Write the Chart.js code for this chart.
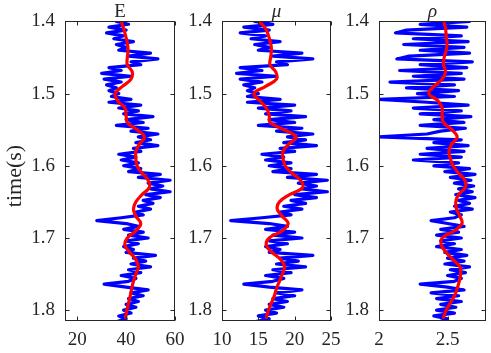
<!DOCTYPE html>
<html lang="en">
<head>
<meta charset="UTF-8">
<title>E mu rho</title>
<style>
  html, body { margin: 0; padding: 0; background: #fff; }
  #wrap { position: relative; width: 491px; height: 353px; }
  #wrap canvas { position: absolute; left: 0; top: 0; }
</style>
</head>
<body>
<div id="wrap">
  <canvas id="cE" width="491" height="353"></canvas>
  <canvas id="cMu" width="491" height="353"></canvas>
  <canvas id="cRho" width="491" height="353"></canvas>
</div>

<script src="https://cdn.jsdelivr.net/npm/chart.js"></script>
<script>
// sample grids (time in s)
const logStart = 1.4, logStep = 0.004;
const smoothStart = 1.4, smoothStep = 0.01;

// blue: well logs
const eLog = [36,41,33,40,32,39,35,43,36,40,
  37,50,41,53,42,46,33,38,30,42,
  31,38,32,36,33,37,34,42,33,46,
  37,45,39,51,40,47,36,49,42,53,
  45,50,44,53,43,46,37,44,38,45,
  39,46,41,54,45,58,49,55,50,58,
  48,54,47,51,45,50,44,47,38,28,
  40,45,39,47,41,49,40,45,39,43,
  40,52,43,48,42,50,41,46,38,44,
  41,31,40,49,42,47,41,45,40,44,
  39,42,37,40,36];
const muLog = [14.5,17,13,16.5,12.5,16,14,18,14.5,16.5,
  15,21,17,22.5,17.5,19,12.5,15.5,12,17.5,
  12.5,15.5,13,14.5,13.5,15,13.5,18,13.5,20,
  15,19.5,16,21.5,16.5,20,15,21,17.5,22.5,
  19,21.5,18.5,23,18,20,15.5,18.5,16,19.5,
  16.5,19.5,17,23,19,24.5,20.5,23,21,24.5,
  20,23,19.5,21.5,18.5,21,18,19.5,15.5,11.2,
  16.5,19,16,20,17,21,16.5,19,16,18,
  16.5,22.5,18,20.5,17.5,21.5,17,19.5,16,18.5,
  17,13,16.5,21,17.5,20,17,19,16.5,18.5,
  16,17.5,15,16.5,14.5];
const rhoLog = [2.66,2.3,2.64,2.2,2.12,2.6,2.25,2.65,2.18,2.62,
  2.3,2.66,2.22,2.13,2.68,2.3,2.64,2.15,2.6,2.25,
  2.62,2.08,2.55,2.2,2.58,2.28,2.55,2.0,2.35,2.65,
  2.25,2.6,2.3,2.67,2.4,2.62,2.3,2.63,2.45,2.35,
  2.0,2.6,2.4,2.65,2.35,2.62,2.3,2.6,2.25,2.58,
  2.4,2.66,2.48,2.7,2.52,2.67,2.55,2.69,2.58,2.68,
  2.56,2.7,2.58,2.66,2.55,2.68,2.52,2.6,2.55,2.38,
  2.5,2.62,2.45,2.58,2.42,2.6,2.45,2.55,2.42,2.6,
  2.48,2.64,2.5,2.62,2.48,2.66,2.52,2.63,2.5,2.6,
  2.55,2.3,2.5,2.62,2.38,2.58,2.42,2.6,2.45,2.56,
  2.42,2.55,2.4,2.5,2.44];

// red: smooth trends
const eSmooth = [38,39,39.8,40.5,40.8,40.5,40.5,42.5,42,38.5,
  35.5,36.5,39.5,40,40.5,44.5,47.5,45.5,44,44,
  44.5,46.5,49,49.5,46.5,44,43,44,46,44,
  40.5,39.5,41.5,44,45,44,43,42.3,41.7,41,
  40.3,39.8];
const muSmooth = [15.1,16,16.4,16.7,16.8,16.7,16.6,17.4,17.5,16,
  14.4,15.2,16.1,16.5,16.6,18.5,20.2,19.2,18.4,18.4,
  18.7,19.6,20.8,21.1,19.3,17.9,17.6,18.3,19.1,18.3,
  16.5,16.1,16.9,18.1,18.6,18.3,17.9,17.5,17.2,16.8,
  16.4,16.1];
const rhoSmooth = [2.473,2.485,2.49,2.496,2.49,2.475,2.47,2.485,2.46,2.40,
  2.363,2.43,2.46,2.46,2.47,2.53,2.57,2.53,2.51,2.52,
  2.54,2.58,2.625,2.63,2.58,2.56,2.565,2.59,2.605,2.55,
  2.46,2.455,2.49,2.54,2.59,2.595,2.585,2.57,2.55,2.52,
  2.49,2.47];

const timeTicks = [1.4, 1.5, 1.6, 1.7, 1.8];
const eTicks = [20, 40, 60];
const muTicks = [10, 15, 20, 25];
const rhoTicks = [2, 2.5];

const txt = '#262626';
const serif = '"Liberation Serif", "Times New Roman", serif';

function toPoints(vals, t0, dt) {
  return vals.map((v, i) => ({ x: v, y: +(t0 + i * dt).toFixed(4) }));
}

// box + inward ticks + panel title
const framePlugin = {
  id: 'frame',
  afterDraw(chart, args, opts) {
    const c = chart.ctx, a = chart.chartArea;
    const xs = chart.scales.x, ys = chart.scales.y;
    const L = Math.round(a.left) + 0.5, R = Math.round(a.right) - 0.5;
    const T = Math.round(a.top) + 0.5, B = Math.round(a.bottom) - 0.5;
    c.save();
    c.strokeStyle = txt;
    c.lineWidth = 1;
    c.strokeRect(L, T, R - L, B - T);
    c.beginPath();
    xs.ticks.forEach(t => {
      const px = Math.round(xs.getPixelForValue(t.value)) + 0.5;
      c.moveTo(px, B); c.lineTo(px, B - 4);
      c.moveTo(px, T); c.lineTo(px, T + 4);
    });
    ys.ticks.forEach(t => {
      const py = Math.round(ys.getPixelForValue(t.value)) + 0.5;
      c.moveTo(L, py); c.lineTo(L + 4, py);
      c.moveTo(R, py); c.lineTo(R - 4, py);
    });
    c.stroke();
    c.fillStyle = txt;
    c.font = (opts.italic ? 'italic ' : '') + '19px ' + serif;
    c.textAlign = 'center';
    c.textBaseline = 'alphabetic';
    c.fillText(opts.title, (a.left + a.right) / 2, 17);
    if (opts.ylabel) {
      c.translate(15, 176);
      c.rotate(-Math.PI / 2);
      c.textBaseline = 'middle';
      c.font = '22px ' + serif;
      c.fillText(opts.ylabel, 0, 0);
    }
    c.restore();
  }
};

function makePanel(id, cfg) {
  new Chart(document.getElementById(id), {
    type: 'scatter',
    data: {
      datasets: [
        {
          data: toPoints(cfg.smooth, smoothStart, smoothStep),
          showLine: true, borderColor: '#ff0000', borderWidth: 3.2,
          borderJoinStyle: 'round', borderCapStyle: 'round',
          pointRadius: 0, tension: 0.4
        },
        {
          data: toPoints(cfg.log, logStart, logStep),
          showLine: true, borderColor: '#0000ff', borderWidth: 3.2,
          borderJoinStyle: 'round', borderCapStyle: 'round',
          pointRadius: 0, tension: 0
        }
      ]
    },
    options: {
      responsive: false,
      animation: false,
      events: [],
      layout: { padding: { left: cfg.left - 50, right: 491 - cfg.right, top: 21, bottom: 0 } },
      plugins: {
        legend: { display: false },
        tooltip: { enabled: false },
        frame: { title: cfg.title, italic: cfg.italic, ylabel: cfg.ylabel }
      },
      scales: {
        x: {
          type: 'linear', min: cfg.min, max: cfg.max,
          afterBuildTicks: s => { s.ticks = cfg.ticks.map(v => ({ value: v })); },
          afterFit: s => { s.height = 32; },
          grid: { display: false, drawTicks: false },
          border: { display: false },
          ticks: { color: txt, font: { family: serif, size: 19 }, padding: 8, maxRotation: 0, autoSkip: false,
            callback: v => String(v) }
        },
        y: {
          type: 'linear', reverse: true, min: 1.4, max: 1.815,
          afterBuildTicks: s => { s.ticks = timeTicks.map(v => ({ value: v })); },
          afterFit: s => { s.width = 50; },
          grid: { display: false, drawTicks: false },
          border: { display: false },
          ticks: { color: txt, font: { family: serif, size: 19 }, padding: 10, callback: v => v.toFixed(1) }
        }
      }
    },
    plugins: [framePlugin]
  });
}

makePanel('cE', { log: eLog, smooth: eSmooth, min: 15, max: 60, ticks: eTicks,
  left: 65, right: 175, title: 'E', italic: false, ylabel: 'time(s)' });
makePanel('cMu', { log: muLog, smooth: muSmooth, min: 10, max: 25, ticks: muTicks,
  left: 222, right: 331, title: 'μ', italic: true });
makePanel('cRho', { log: rhoLog, smooth: rhoSmooth, min: 2, max: 2.78, ticks: rhoTicks,
  left: 379, right: 486, title: 'ρ', italic: true });
</script>
</body>
</html>
